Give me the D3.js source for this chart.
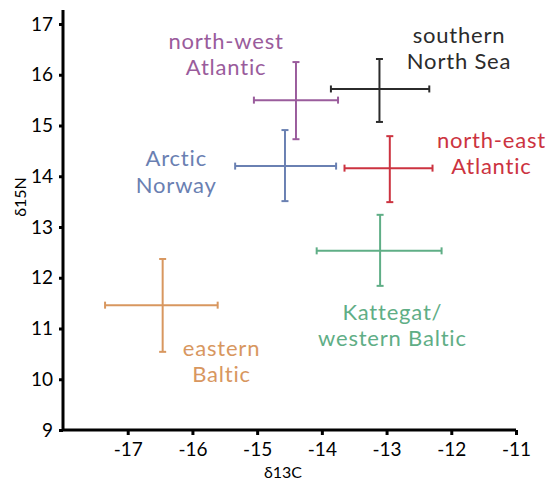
<!DOCTYPE html>
<html lang="en">
<head>
  <meta charset="UTF-8">
  <title>δ13C vs δ15N by region</title>
  <script src="https://d3js.org/d3.v7.min.js"></script>
  <style type="text/css">
    body { margin: 0; background: white; }
    svg text { font-family: Lato, "Open Sans", sans-serif; }
    .axis path, .axis line { stroke: black; }
    .axis text { font-size: 19px; fill: black; font-family: Lato, sans-serif; }
  </style>
</head>
<body>
  <div id="chart">
    <svg width="553" height="486"></svg>
  </div>
  <script type="text/javascript">
    // Data: mean and range of each region
    let regions = ["eastern Baltic", "Kattegat/western Baltic", "north-east Atlantic",
                   "southern North Sea", "north-west Atlantic", "Arctic Norway"];
    let c13Mean = [-16.46, -13.1, -12.95, -13.11, -14.4, -14.57];
    let c13Low  = [-17.35, -14.08, -13.65, -13.86, -15.05, -15.34];
    let c13High = [-15.61, -12.15, -12.29, -12.34, -13.75, -13.78];
    let n15Mean = [11.46, 12.53, 14.16, 15.72, 15.5, 14.2];
    let n15Low  = [10.54, 11.84, 13.49, 15.07, 14.73, 13.51];
    let n15High = [12.37, 13.24, 14.79, 16.31, 16.25, 14.91];
    let colors  = ["#d8975f", "#5fae86", "#cc3340", "#2b2b2b", "#9a5c9c", "#6a80b2"];
    let labelLines = [["eastern", "Baltic"], ["Kattegat/", "western Baltic"], ["north-east", "Atlantic"],
                      ["southern", "North Sea"], ["north-west", "Atlantic"], ["Arctic", "Norway"]];
    // label anchor (centre of first line baseline), in data units
    let labelX = [-15.55, -12.91, -11.38, -11.88, -15.48, -16.25];
    let labelY = [10.46, 11.17, 14.56, 16.63, 16.51, 14.2];
    let xTicks = [-17, -16, -15, -14, -13, -12, -11];
    let yTicks = [9, 10, 11, 12, 13, 14, 15, 16, 17];

    let svg = d3.select("#chart svg");

    let x = d3.scaleLinear().domain([-18, -11]).range([63, 516]);
    let y = d3.scaleLinear().domain([9, 17]).range([430, 24]);

    // Axes
    let xAxis = svg.append("g")
      .attr("class", "axis")
      .attr("transform", "translate(0," + y(9) + ")")
      .call(d3.axisBottom(x).tickValues(xTicks).tickSize(5).tickPadding(8).tickFormat(d => d));
    xAxis.select(".domain").attr("d", "M" + x(-18) + ",0H" + x(-11)).attr("stroke-width", 3);
    xAxis.selectAll(".tick line").attr("stroke-width", 3);

    let yAxis = svg.append("g")
      .attr("class", "axis")
      .attr("transform", "translate(" + x(-18) + ",0)")
      .call(d3.axisLeft(y).tickValues(yTicks).tickSize(4).tickPadding(6).tickFormat(d => d));
    yAxis.select(".domain").attr("d", "M0," + y(9) + "V" + (y(17) - 14)).attr("stroke-width", 3);
    yAxis.selectAll(".tick line").attr("stroke-width", 3);

    svg.append("text")
      .attr("x", x(-14.6))
      .attr("y", 478)
      .attr("text-anchor", "middle")
      .style("font-size", "16px")
      .text("δ13C");

    svg.append("text")
      .attr("transform", "translate(26," + y(13.59) + ") rotate(-90)")
      .attr("text-anchor", "middle")
      .style("font-size", "16px")
      .text("δ15N");

    // Error crosses
    let capW = 3.5;
    let marks = svg.append("g").selectAll("g")
      .data(regions)
      .join("g")
      .attr("stroke", (d, i) => colors[i])
      .attr("stroke-width", 2);

    marks.append("line")
      .attr("x1", (d, i) => x(c13Low[i])).attr("x2", (d, i) => x(c13High[i]))
      .attr("y1", (d, i) => y(n15Mean[i])).attr("y2", (d, i) => y(n15Mean[i]));
    marks.append("line")
      .attr("x1", (d, i) => x(c13Mean[i])).attr("x2", (d, i) => x(c13Mean[i]))
      .attr("y1", (d, i) => y(n15Low[i])).attr("y2", (d, i) => y(n15High[i]));
    // caps
    marks.append("line")
      .attr("x1", (d, i) => x(c13Low[i])).attr("x2", (d, i) => x(c13Low[i]))
      .attr("y1", (d, i) => y(n15Mean[i]) - capW).attr("y2", (d, i) => y(n15Mean[i]) + capW);
    marks.append("line")
      .attr("x1", (d, i) => x(c13High[i])).attr("x2", (d, i) => x(c13High[i]))
      .attr("y1", (d, i) => y(n15Mean[i]) - capW).attr("y2", (d, i) => y(n15Mean[i]) + capW);
    marks.append("line")
      .attr("x1", (d, i) => x(c13Mean[i]) - capW).attr("x2", (d, i) => x(c13Mean[i]) + capW)
      .attr("y1", (d, i) => y(n15Low[i])).attr("y2", (d, i) => y(n15Low[i]));
    marks.append("line")
      .attr("x1", (d, i) => x(c13Mean[i]) - capW).attr("x2", (d, i) => x(c13Mean[i]) + capW)
      .attr("y1", (d, i) => y(n15High[i])).attr("y2", (d, i) => y(n15High[i]));

    // Region labels
    svg.append("g").selectAll("text")
      .data(regions)
      .join("text")
      .attr("x", (d, i) => x(labelX[i]))
      .attr("y", (d, i) => y(labelY[i]))
      .attr("text-anchor", "middle")
      .attr("fill", (d, i) => colors[i])
      .style("font-size", "22px")
      .style("letter-spacing", "0.8px")
      .each(function (d, i) {
        d3.select(this).selectAll("tspan")
          .data(labelLines[i])
          .join("tspan")
          .attr("x", x(labelX[i]))
          .attr("dy", (t, k) => k === 0 ? 0 : 26.5)
          .text(t => t);
      });
  </script>
</body>
</html>
